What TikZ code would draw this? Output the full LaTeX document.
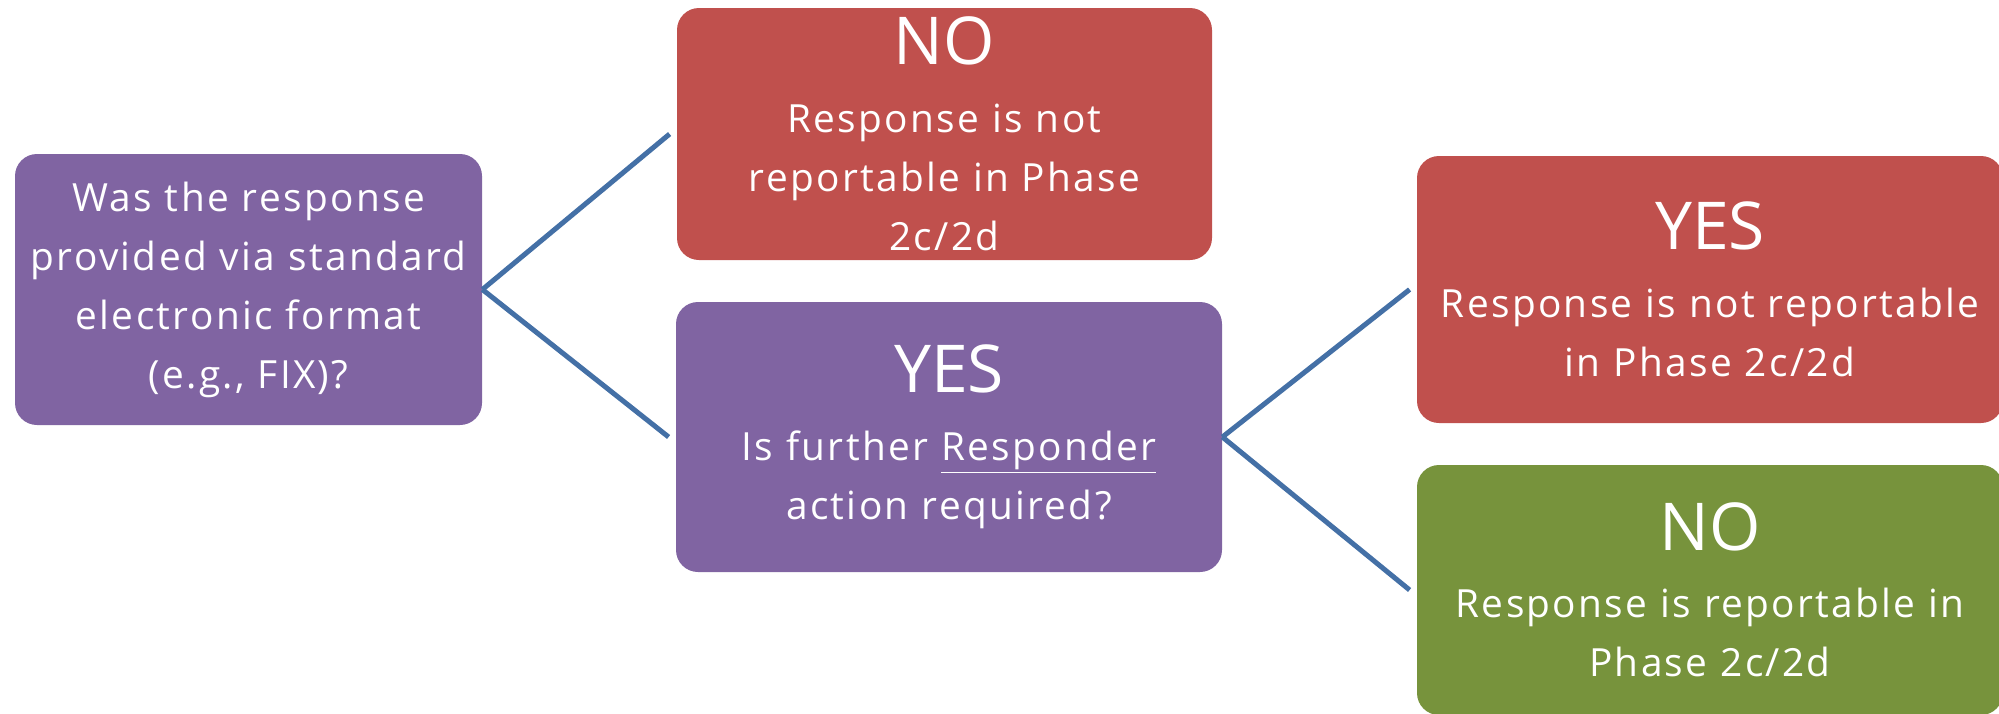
\documentclass[tikz,border=0pt]{standalone}
\usepackage{fontspec}
\setmainfont{Open Sans}
\newfontfamily\bodyfam{Open Sans}[LetterSpace=6]
\definecolor{boxpurple}{HTML}{8064A2}
\definecolor{boxred}{HTML}{C0504D}
\definecolor{boxgreen}{HTML}{77933C}
\definecolor{linkblue}{HTML}{4470A6}
\newcommand\bodyfont{\bodyfam\fontsize{19.4}{29.5}\selectfont}
\newcommand\headfont{\normalfont\fontsize{33}{33.75}\selectfont}
\newcommand\headgap{\par\vskip4.25pt}
\tikzset{
  box/.style={rounded corners=11pt, text=white, align=center, inner sep=0pt,
    font=\bodyfont},
  purplebox/.style={box, fill=boxpurple},
  redbox/.style={box, fill=boxred},
  greenbox/.style={box, fill=boxgreen},
  conn/.style={draw=linkblue, line width=2.5pt}
}
\begin{document}
\begin{tikzpicture}[x=0.5pt,y=-0.5pt]
\clip (0,0) rectangle (1999,713);
\useasboundingbox (0,0) rectangle (1999,713);
\node[purplebox, minimum width=233.5pt, minimum height=135.5pt, text width=233.5pt] (A) at (248.5,289.5)
  {Was the response\\provided via standard\\electronic format\\(e.g., FIX)?};
\node[redbox, minimum width=267.5pt, minimum height=126pt, text width=267.5pt] (B) at (944.5,134)
  {\headfont NO\headgap\bodyfont Response is not\\reportable in Phase\\2c/2d};
\node[purplebox, minimum width=273pt, minimum height=135pt, text width=273pt] (C) at (949,437)
  {\headfont YES\headgap\bodyfont Is further \underline{Responder}\\action required?};
\node[redbox, minimum width=293pt, minimum height=133.5pt, text width=293pt] (D) at (1710,289.5)
  {\headfont YES\headgap\bodyfont Response is not reportable\\in Phase 2c/2d};
\node[greenbox, minimum width=293pt, minimum height=125pt, text width=293pt] (E) at (1710,590)
  {\headfont NO\headgap\bodyfont Response is reportable in\\Phase 2c/2d};
\draw[conn] (A.east) -- ([xshift=-3.5pt]B.west);
\draw[conn] (A.east) -- ([xshift=-3.5pt]C.west);
\draw[conn] (C.east) -- ([xshift=-3.5pt]D.west);
\draw[conn] (C.east) -- ([xshift=-3.5pt]E.west);
\end{tikzpicture}
\end{document}
